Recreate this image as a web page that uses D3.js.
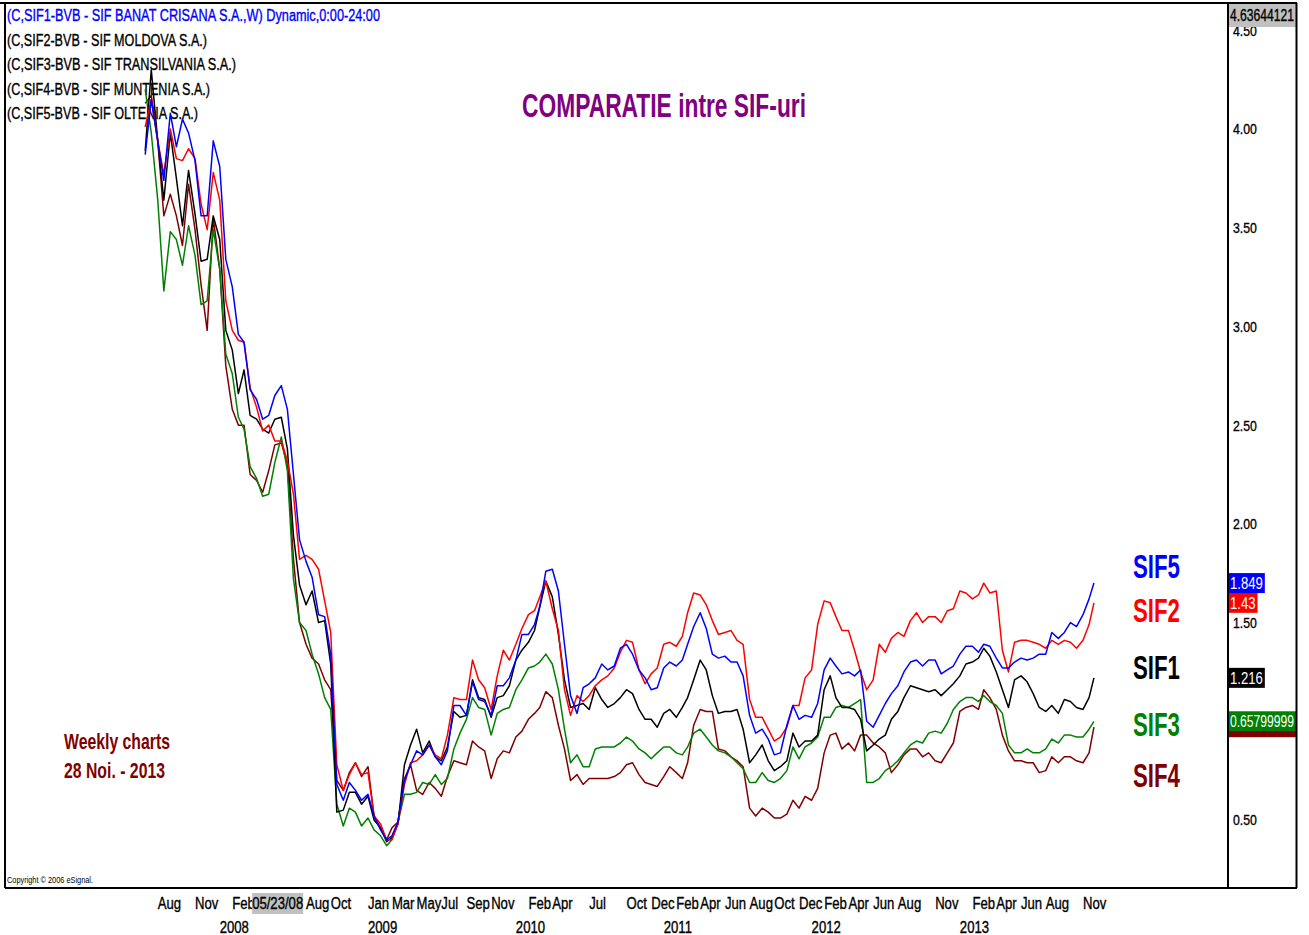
<!DOCTYPE html>
<html>
<head>
<meta charset="utf-8">
<script src="https://cdn.jsdelivr.net/npm/d3@7"></script>
<style>
  body { margin: 0; background: #fff; }
  svg { display: block; }
</style>
</head>
<body>
<div id="chart"></div>
<script>
// weekly closes sampled twice a month (1st and 16th), Jul 2007 .. Nov 2013, plus last bar 28 Nov 2013
const firstMonth = new Date(2007, 6, 1);
const halfMonths = 154;
const lastBar = new Date(2013, 10, 28);

const sif5 = [
  3.87,4.15,3.94,3.74,4.08,3.91,4.05,3.98,3.84,3.56,
  3.56,3.94,3.81,3.34,3.20,2.96,2.92,2.68,2.63,2.53,
  2.55,2.65,2.70,2.58,2.25,1.92,1.81,1.73,1.54,1.53,
  1.34,0.68,0.60,0.69,0.65,0.60,0.63,0.52,0.45,0.40,
  0.42,0.49,0.70,0.78,0.85,0.83,0.88,0.82,0.78,0.85,
  1.08,1.08,1.03,1.20,1.11,1.10,1.03,1.18,1.18,1.22,
  1.31,1.44,1.44,1.49,1.58,1.76,1.77,1.66,1.39,1.13,
  1.04,1.17,1.19,1.22,1.29,1.26,1.28,1.37,1.39,1.34,
  1.26,1.22,1.16,1.17,1.27,1.30,1.28,1.31,1.39,1.48,
  1.55,1.47,1.34,1.32,1.33,1.30,1.30,1.23,1.03,0.94,
  0.96,0.91,0.83,0.84,0.98,1.08,1.01,1.03,1.02,1.09,
  1.26,1.32,1.28,1.24,1.25,1.23,1.26,1.00,0.97,1.03,
  1.09,1.14,1.18,1.25,1.30,1.31,1.28,1.31,1.31,1.24,
  1.26,1.28,1.34,1.38,1.38,1.35,1.39,1.38,1.32,1.27,
  1.27,1.30,1.32,1.31,1.32,1.34,1.34,1.45,1.42,1.45,
  1.50,1.48,1.54,1.62,1.70];

const sif2 = [
  4.01,4.15,3.94,3.77,4.00,3.85,3.84,3.90,3.85,3.62,
  3.49,3.78,3.64,3.13,2.98,2.93,2.92,2.69,2.59,2.47,
  2.50,2.42,2.42,2.32,2.15,1.82,1.84,1.82,1.77,1.61,
  1.45,0.78,0.65,0.73,0.79,0.73,0.74,0.52,0.48,0.40,
  0.40,0.48,0.68,0.79,0.80,0.83,0.88,0.83,0.81,0.93,
  1.12,1.11,1.11,1.31,1.21,1.17,1.06,1.23,1.36,1.31,
  1.39,1.47,1.54,1.56,1.63,1.71,1.57,1.46,1.16,1.03,
  1.13,1.10,1.13,1.18,1.21,1.23,1.27,1.35,1.41,1.40,
  1.26,1.19,1.24,1.27,1.39,1.40,1.38,1.43,1.55,1.65,
  1.64,1.59,1.51,1.44,1.45,1.46,1.41,1.39,1.11,1.02,
  1.02,0.96,0.90,0.92,0.97,1.08,1.08,1.22,1.26,1.49,
  1.61,1.60,1.53,1.46,1.46,1.36,1.25,1.16,1.21,1.39,
  1.35,1.42,1.45,1.43,1.51,1.55,1.50,1.53,1.53,1.50,
  1.56,1.57,1.66,1.65,1.62,1.64,1.70,1.65,1.66,1.36,
  1.25,1.40,1.41,1.41,1.40,1.39,1.37,1.41,1.39,1.41,
  1.40,1.37,1.41,1.49,1.60];

const sif1 = [
  3.89,4.30,3.94,3.64,3.98,3.75,3.51,3.79,3.57,3.33,
  3.34,3.56,3.44,2.98,2.88,2.66,2.78,2.55,2.53,2.48,
  2.46,2.53,2.54,2.38,1.94,1.69,1.59,1.66,1.50,1.51,
  1.29,0.54,0.55,0.64,0.64,0.58,0.62,0.50,0.46,0.39,
  0.41,0.48,0.78,0.88,0.96,0.84,0.90,0.82,0.80,0.87,
  1.05,1.02,1.03,1.21,1.12,1.11,1.02,1.12,1.13,1.18,
  1.31,1.36,1.40,1.46,1.58,1.71,1.63,1.44,1.21,1.07,
  1.08,1.09,1.06,1.17,1.11,1.07,1.09,1.12,1.16,1.14,
  1.06,1.01,1.01,0.97,1.04,1.06,1.02,1.07,1.12,1.21,
  1.31,1.26,1.13,1.04,1.05,1.05,1.06,0.96,0.79,0.83,
  0.88,0.80,0.75,0.77,0.80,0.94,0.87,0.90,0.90,0.93,
  1.16,1.23,1.12,1.07,1.07,1.06,1.01,0.85,0.88,0.91,
  0.93,1.01,1.05,1.12,1.18,1.17,1.16,1.15,1.16,1.13,
  1.16,1.19,1.23,1.29,1.30,1.32,1.37,1.33,1.25,1.16,
  1.07,1.21,1.23,1.20,1.14,1.07,1.05,1.08,1.04,1.11,
  1.10,1.07,1.06,1.12,1.22];

const sif3 = [
  4.20,3.98,3.64,3.18,3.48,3.44,3.31,3.51,3.36,3.11,
  3.13,3.49,3.29,2.86,2.76,2.54,2.48,2.29,2.23,2.14,
  2.15,2.31,2.44,2.27,1.72,1.50,1.46,1.34,1.24,1.12,
  1.06,0.58,0.47,0.56,0.54,0.47,0.51,0.45,0.42,0.37,
  0.40,0.49,0.63,0.63,0.64,0.69,0.68,0.73,0.68,0.71,
  0.86,0.94,1.01,1.12,1.07,1.06,0.93,1.04,1.06,1.07,
  1.16,1.21,1.27,1.28,1.30,1.34,1.29,1.16,0.96,0.79,
  0.83,0.77,0.77,0.86,0.87,0.87,0.87,0.89,0.92,0.90,
  0.86,0.84,0.81,0.84,0.87,0.87,0.84,0.83,0.87,0.94,
  0.96,0.92,0.88,0.85,0.84,0.82,0.79,0.76,0.69,0.69,
  0.74,0.70,0.69,0.71,0.75,0.87,0.81,0.87,0.89,0.92,
  1.02,1.02,1.07,1.08,1.07,1.09,1.11,0.69,0.69,0.71,
  0.75,0.77,0.80,0.84,0.88,0.90,0.89,0.94,0.95,0.94,
  0.99,1.06,1.10,1.12,1.12,1.10,1.13,1.10,1.08,1.04,
  0.88,0.84,0.84,0.86,0.84,0.84,0.86,0.91,0.89,0.93,
  0.93,0.92,0.92,0.96,1.00];

const sif4 = [
  4.13,4.17,3.94,3.56,3.67,3.56,3.41,3.72,3.49,3.21,
  2.98,3.55,3.29,2.80,2.58,2.50,2.50,2.25,2.22,2.16,
  2.27,2.40,2.41,2.30,1.82,1.50,1.39,1.32,1.29,1.21,
  1.16,0.70,0.65,0.74,0.79,0.72,0.77,0.52,0.46,0.40,
  0.46,0.49,0.71,0.78,0.65,0.63,0.69,0.66,0.62,0.72,
  0.80,0.79,0.78,0.90,0.87,0.85,0.71,0.81,0.85,0.84,
  0.92,0.95,1.01,1.04,1.07,1.15,1.12,0.98,0.86,0.70,
  0.73,0.68,0.71,0.71,0.71,0.71,0.72,0.74,0.78,0.79,
  0.73,0.69,0.68,0.67,0.72,0.77,0.74,0.71,0.79,0.98,
  1.06,1.05,1.05,0.86,0.85,0.82,0.80,0.77,0.56,0.52,
  0.56,0.54,0.51,0.51,0.53,0.60,0.56,0.62,0.60,0.66,
  0.84,0.93,0.94,0.86,0.89,0.85,0.93,0.93,0.89,0.87,
  0.84,0.74,0.78,0.83,0.86,0.86,0.82,0.84,0.80,0.79,
  0.84,0.89,1.05,1.07,1.08,1.06,1.16,1.12,1.06,0.93,
  0.85,0.80,0.80,0.79,0.79,0.74,0.75,0.82,0.79,0.82,
  0.82,0.80,0.79,0.84,0.97];

const seriesColors = ['#800000', '#008000', '#000000', '#ff0000', '#0000ff'];
const seriesValues = [sif4, sif3, sif1, sif2, sif5];
const lastPrices = ['', '0.65799999', '1.216', '1.43', '1.849'];
const topPrice = '4.63644121';

const legendLines = [
  '(C,SIF1-BVB - SIF BANAT CRISANA S.A.,W) Dynamic,0:00-24:00',
  '(C,SIF2-BVB - SIF MOLDOVA S.A.)',
  '(C,SIF3-BVB - SIF TRANSILVANIA S.A.)',
  '(C,SIF4-BVB - SIF MUNTENIA S.A.)',
  '(C,SIF5-BVB - SIF OLTENIA S.A.)'
];
const yTicks = [0.5, 1.0, 1.5, 2.0, 2.5, 3.0, 3.5, 4.0, 4.5];
const monthTicks = ['2007-08','2007-11','2008-02','2008-08','2008-10','2009-01','2009-03','2009-05',
  '2009-07','2009-09','2009-11','2010-02','2010-04','2010-07','2010-10','2010-12','2011-02','2011-04',
  '2011-06','2011-08','2011-10','2011-12','2012-02','2012-04','2012-06','2012-08','2012-11','2013-02',
  '2013-04','2013-06','2013-08','2013-11'];
const yearTicks = [2008, 2009, 2010, 2011, 2012, 2013];
const cursorDate = '2008-05-23';

const dates = d3.range(halfMonths).map(i =>
  new Date(firstMonth.getFullYear(), firstMonth.getMonth() + Math.floor(i / 2), i % 2 ? 16 : 1));
dates.push(lastBar);

const W = 1309, H = 935;
const plot = { left: 5, top: 3, right: 1228, bottom: 888 };
const SQUEEZE = 0.82; // Arial Narrow look from Liberation Sans

const svg = d3.select('#chart').append('svg').attr('width', W).attr('height', H)
  .style('font-family', '"Liberation Sans", Arial, sans-serif');

const x = d3.scaleTime().domain([new Date(2009, 0, 1), new Date(2013, 10, 1)]).range([368, 1083]);
const y = d3.scaleLinear().domain([0.5, 4]).range([820, 129]);

// narrow text helper
function narrow(sel, fx, fy) {
  return sel.attr('transform', (d, i) => `translate(${fx(d, i)},${fy(d, i)}) scale(${SQUEEZE},1)`);
}
// slightly heavier strokes, like the screen font of the original
function heavy(sel, color) {
  return sel.attr('stroke', color).attr('stroke-width', 0.35);
}

svg.append('defs').append('clipPath').attr('id', 'plotclip')
  .append('rect').attr('x', plot.left).attr('y', plot.top)
  .attr('width', plot.right - plot.left).attr('height', plot.bottom - plot.top);

// legend text (lines are drawn over it)
svg.append('g').selectAll('text').data(legendLines).join('text')
  .attr('x', 7).attr('y', (d, i) => 21 + i * 24.5)
  .attr('font-size', 16)
  .attr('fill', (d, i) => i === 0 ? '#0000ff' : '#000')
  .attr('stroke', (d, i) => i === 0 ? '#0000ff' : '#000').attr('stroke-width', 0.35)
  .attr('textLength', (d, i) => [373, 200, 229, 203, 191][i])
  .attr('lengthAdjust', 'spacingAndGlyphs')
  .text(d => d);

svg.append('text').attr('x', 522).attr('y', 117)
  .attr('font-size', 33).attr('font-weight', 'bold').attr('fill', '#800080')
  .attr('textLength', 284).attr('lengthAdjust', 'spacingAndGlyphs')
  .text('COMPARATIE intre SIF-uri');

svg.append('text').attr('x', 64).attr('y', 749)
  .attr('font-size', 22).attr('font-weight', 'bold').attr('fill', '#800000')
  .attr('textLength', 106).attr('lengthAdjust', 'spacingAndGlyphs')
  .text('Weekly charts');
svg.append('text').attr('x', 64).attr('y', 778)
  .attr('font-size', 22).attr('font-weight', 'bold').attr('fill', '#800000')
  .attr('textLength', 101).attr('lengthAdjust', 'spacingAndGlyphs')
  .text('28 Noi. - 2013');

svg.append('text').attr('x', 7).attr('y', 883)
  .attr('font-size', 9).attr('fill', '#000')
  .attr('textLength', 86).attr('lengthAdjust', 'spacingAndGlyphs')
  .text('Copyright \u00a9 2006 eSignal.');

// series lines
const line = d3.line().x(d => x(d.date)).y(d => y(d.value));
svg.append('g').attr('clip-path', 'url(#plotclip)')
  .selectAll('path').data(seriesValues).join('path')
  .attr('fill', 'none')
  .attr('stroke', (d, i) => seriesColors[i])
  .attr('stroke-width', 1.5)
  .attr('stroke-linejoin', 'round')
  .attr('d', vals => line(vals.map((v, i) => ({ date: dates[i], value: v }))));

// series name labels at right
const nameLabels = [
  { name: 'SIF5', color: '#0000ff', base: 578 },
  { name: 'SIF2', color: '#ff0000', base: 622 },
  { name: 'SIF1', color: '#000000', base: 679 },
  { name: 'SIF3', color: '#008000', base: 736 },
  { name: 'SIF4', color: '#800000', base: 787 }
];
svg.append('g').selectAll('text').data(nameLabels).join('text')
  .attr('x', 1133).attr('y', d => d.base)
  .attr('font-size', 34).attr('font-weight', 'bold')
  .attr('fill', d => d.color)
  .attr('textLength', 47).attr('lengthAdjust', 'spacingAndGlyphs')
  .text(d => d.name);

// right price axis
svg.append('g').selectAll('text').data(yTicks).join('text')
  .call(narrow, () => 1233, d => y(d)).attr('dy', '0.36em')
  .attr('font-size', 15).attr('fill', '#000').call(heavy, '#000')
  .text(d => d3.format('.2f')(d));

// last-value boxes
seriesValues.forEach((vals, i) => {
  const yy = y(vals[vals.length - 1]);
  const g = svg.append('g');
  const t = g.append('text').datum(yy).call(narrow, () => 1230, () => yy).attr('dy', '0.36em')
    .attr('font-size', 16).attr('fill', '#fff').text(lastPrices[i]);
  const natural = lastPrices[i] ? t.node().getComputedTextLength() * SQUEEZE : 0;
  if (natural > 64) t.attr('textLength', 64 / SQUEEZE).attr('lengthAdjust', 'spacingAndGlyphs');
  const w = lastPrices[i] ? Math.min(67, natural + 3) : 67;
  g.insert('rect', 'text').attr('x', 1229).attr('y', yy - 10).attr('width', w).attr('height', 20)
    .attr('fill', seriesColors[i]);
});

// top price box
svg.append('rect').attr('x', 1229).attr('y', 4).attr('width', 67).attr('height', 23).attr('fill', '#c0c0c0');
svg.append('text').datum(0).call(narrow, () => 1230, () => 15).attr('dy', '0.36em')
  .attr('font-size', 16).attr('fill', '#000').call(heavy, '#000')
  .attr('textLength', 64 / SQUEEZE).attr('lengthAdjust', 'spacingAndGlyphs')
  .text(topPrice);

// time axis
const parseMonth = d3.timeParse('%Y-%m');
svg.append('g').selectAll('text').data(monthTicks).join('text')
  .call(narrow, d => x(parseMonth(d)), () => 909)
  .attr('font-size', 16).attr('fill', '#000').call(heavy, '#000')
  .text(d => d3.timeFormat('%b')(parseMonth(d)));
svg.append('g').selectAll('text').data(yearTicks).join('text')
  .call(narrow, d => x(new Date(d, 0, 1)), () => 933)
  .attr('font-size', 16).attr('fill', '#000').call(heavy, '#000')
  .text(d => d);

const cur = d3.timeParse('%Y-%m-%d')(cursorDate);
const cx = x(cur);
svg.append('rect').attr('x', cx - 25.5).attr('y', 893).attr('width', 51).attr('height', 21).attr('fill', '#c0c0c0');
svg.append('text').datum(cur).call(narrow, () => cx, () => 909).attr('text-anchor', 'middle')
  .attr('font-size', 16).attr('fill', '#000').call(heavy, '#000')
  .text(d3.timeFormat('%m/%d/%y')(cur));

// frame
const frame = svg.append('g').attr('stroke', '#000').attr('stroke-width', 2);
frame.append('line').attr('x1', 0).attr('x2', 1297).attr('y1', plot.top).attr('y2', plot.top);
frame.append('line').attr('x1', plot.left).attr('x2', plot.left).attr('y1', plot.top).attr('y2', plot.bottom);
frame.append('line').attr('x1', plot.left).attr('x2', 1297).attr('y1', plot.bottom).attr('y2', plot.bottom);
frame.append('line').attr('x1', plot.right).attr('x2', plot.right).attr('y1', plot.top).attr('y2', plot.bottom);
frame.append('line').attr('x1', 1296.5).attr('x2', 1296.5).attr('y1', plot.top).attr('y2', plot.bottom);
</script>
</body>
</html>
